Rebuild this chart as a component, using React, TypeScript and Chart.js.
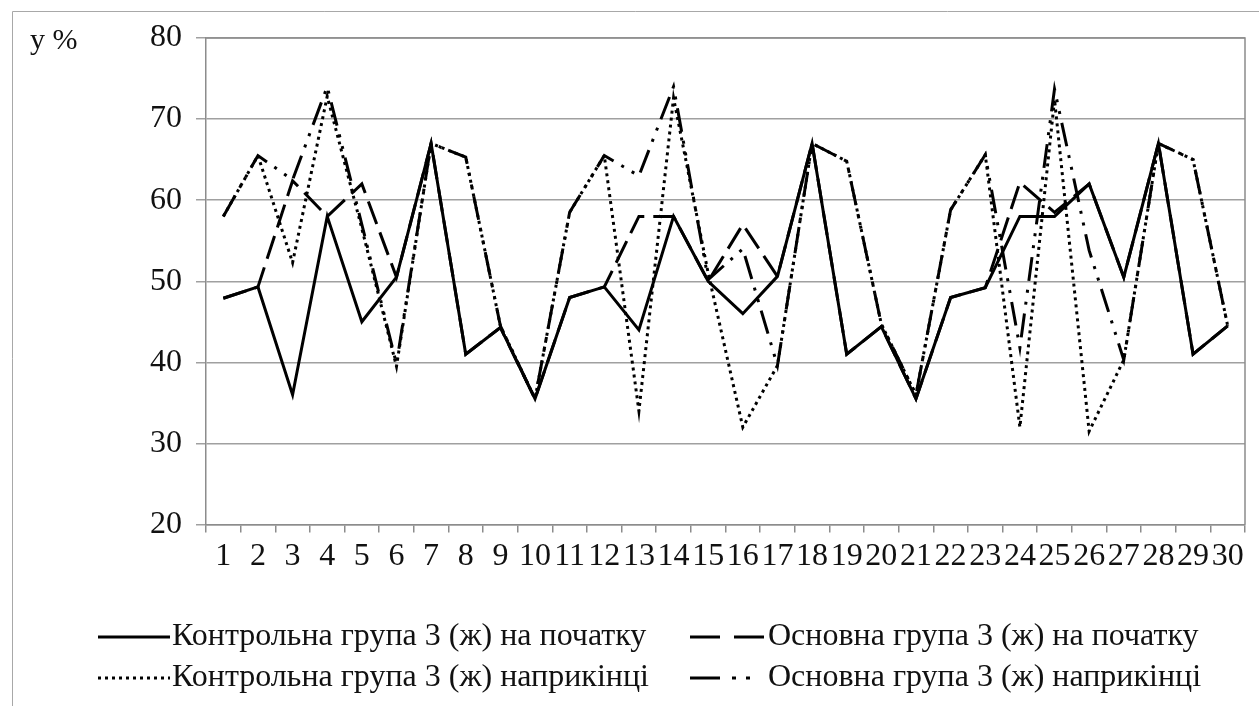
import React, { useEffect, useRef } from 'react';
import { Chart, registerables } from 'chart.js';

Chart.register(...registerables);

const categories = ['1', '2', '3', '4', '5', '6', '7', '8', '9', '10', '11', '12', '13', '14', '15', '16', '17', '18', '19', '20', '21', '22', '23', '24', '25', '26', '27', '28', '29', '30'];

const controlStart = [47.9, 49.3, 36.0, 58.0, 45.0, 50.5, 67.0, 41.0, 44.3, 35.5, 48.0, 49.3, 44.0, 58.0, 50.0, 46.0, 50.6, 67.0, 41.0, 44.4, 35.5, 48.0, 49.2, 58.0, 58.0, 62.0, 50.5, 67.0, 41.0, 44.5];
const mainStart = [47.9, 49.3, 62.4, 58.0, 62.0, 50.5, 67.0, 41.0, 44.3, 35.5, 48.0, 49.3, 58.0, 58.0, 50.0, 57.0, 50.6, 67.0, 41.0, 44.4, 35.5, 48.0, 49.2, 62.2, 58.5, 62.0, 50.5, 67.0, 41.0, 44.5];
const controlEnd = [58.0, 65.5, 52.3, 72.8, 56.5, 39.5, 67.0, 65.3, 44.5, 35.5, 58.5, 65.5, 34.0, 72.6, 51.0, 32.0, 39.6, 67.0, 64.8, 44.7, 36.0, 58.8, 65.6, 32.0, 72.4, 31.5, 40.3, 67.0, 65.0, 44.5];
const mainEnd = [58.0, 65.5, 62.5, 74.0, 57.0, 39.8, 67.0, 65.3, 44.5, 35.5, 58.5, 65.5, 63.0, 74.0, 50.2, 54.0, 39.6, 67.0, 64.8, 44.7, 36.0, 58.8, 65.6, 41.8, 73.7, 53.8, 40.3, 67.0, 65.0, 44.5];

const seriesNames = [
  'Контрольна група 3 (ж) на початку',
  'Основна група 3 (ж) на початку',
  'Контрольна група 3 (ж) наприкінці',
  'Основна група 3 (ж) наприкінці',
];
const yAxisLabel = 'y %';

const FONT = '"Liberation Serif", "Times New Roman", serif';
const DASHES: number[][] = [[], [24, 9], [3, 4], [24, 9, 3, 9, 3, 9]];
const LEGEND_DASHES: number[][] = [[], [30, 14], [3, 4], [30, 12, 4, 10, 4, 30]];

const decorPlugin = {
  id: 'decor',
  beforeDatasetsDraw(chart: any) {
    const { ctx, chartArea: a } = chart;
    ctx.save();
    ctx.strokeStyle = '#8c8c8c';
    ctx.lineWidth = 1.5;
    ctx.beginPath();
    ctx.moveTo(a.left, a.top);
    ctx.lineTo(a.right, a.top);
    ctx.lineTo(a.right, a.bottom);
    ctx.stroke();
    ctx.restore();
  },
  afterDraw(chart: any) {
    const { ctx } = chart;
    ctx.save();
    ctx.strokeStyle = '#a8a8a8';
    ctx.lineWidth = 1;
    ctx.beginPath();
    ctx.moveTo(12.5, 706);
    ctx.lineTo(12.5, 11.5);
    ctx.lineTo(1259, 11.5);
    ctx.stroke();
    ctx.fillStyle = '#111';
    ctx.font = '30px ' + FONT;
    ctx.textBaseline = 'middle';
    ctx.textAlign = 'left';
    ctx.fillText(yAxisLabel, 30, 41);
    const items = [
      { x0: 98, x1: 170, tx: 172, y: 637 },
      { x0: 690, x1: 766, tx: 768, y: 637 },
      { x0: 98, x1: 170, tx: 172, y: 678 },
      { x0: 690, x1: 766, tx: 768, y: 678 },
    ];
    [0, 1, 2, 3].forEach((di, k) => {
      const it = items[k];
      const ds = chart.data.datasets[di];
      ctx.strokeStyle = '#000';
      ctx.lineWidth = 3;
      ctx.setLineDash(LEGEND_DASHES[di]);
      ctx.beginPath();
      ctx.moveTo(it.x0, it.y);
      ctx.lineTo(it.x1, it.y);
      ctx.stroke();
      ctx.setLineDash([]);
      ctx.font = '32px ' + FONT;
      ctx.fillStyle = '#111';
      ctx.fillText(ds.label, it.tx, it.y);
    });
    ctx.restore();
  },
};

export default function App() {
  const ref = useRef<HTMLCanvasElement | null>(null);
  useEffect(() => {
    const canvas = ref.current;
    if (!canvas) return;
    const seriesData = [controlStart, mainStart, controlEnd, mainEnd];
    const chart = new Chart(canvas, {
      type: 'line',
      data: {
        labels: categories,
        datasets: seriesData.map((d, i) => ({
          label: seriesNames[i],
          data: d,
          borderColor: '#000',
          backgroundColor: '#000',
          borderWidth: 3,
          borderDash: DASHES[i],
          borderCapStyle: 'butt',
          pointRadius: 0,
          tension: 0,
          fill: false,
        })),
      },
      options: {
        animation: false,
        responsive: false,
        maintainAspectRatio: false,
        devicePixelRatio: 1,
        layout: { padding: { top: 38, right: 14, left: 0, bottom: 0 } },
        plugins: {
          legend: { display: false },
          tooltip: { enabled: false },
        },
        scales: {
          x: {
            type: 'category',
            offset: true,
            grid: {
              offset: true,
              drawOnChartArea: false,
              drawTicks: true,
              tickLength: 8,
              color: '#8c8c8c',
              lineWidth: 1.5,
            },
            border: { display: true, color: '#8c8c8c', width: 1.5 },
            ticks: {
              autoSkip: false,
              maxRotation: 0,
              minRotation: 0,
              padding: 5,
              color: '#111',
              font: { family: FONT, size: 32 },
            },
            afterFit: (s: any) => { s.height = 181.5; },
          },
          y: {
            min: 20,
            max: 80,
            ticks: {
              stepSize: 10,
              padding: 14,
              color: '#111',
              font: { family: FONT, size: 32 },
            },
            grid: {
              color: '#a0a0a0',
              lineWidth: 1.5,
              tickLength: 10,
              drawTicks: true,
            },
            border: { display: true, color: '#8c8c8c', width: 1.5 },
            afterFit: (s: any) => { s.width = 206; },
          },
        },
      },
      plugins: [decorPlugin],
    });
    return () => chart.destroy();
  }, []);
  return (
    <div style={{ position: 'absolute', left: 0, top: 0, width: 1259, height: 706, background: '#fff' }}>
      <canvas ref={ref} width={1259} height={706} style={{ width: 1259, height: 706, display: 'block' }} />
    </div>
  );
}
